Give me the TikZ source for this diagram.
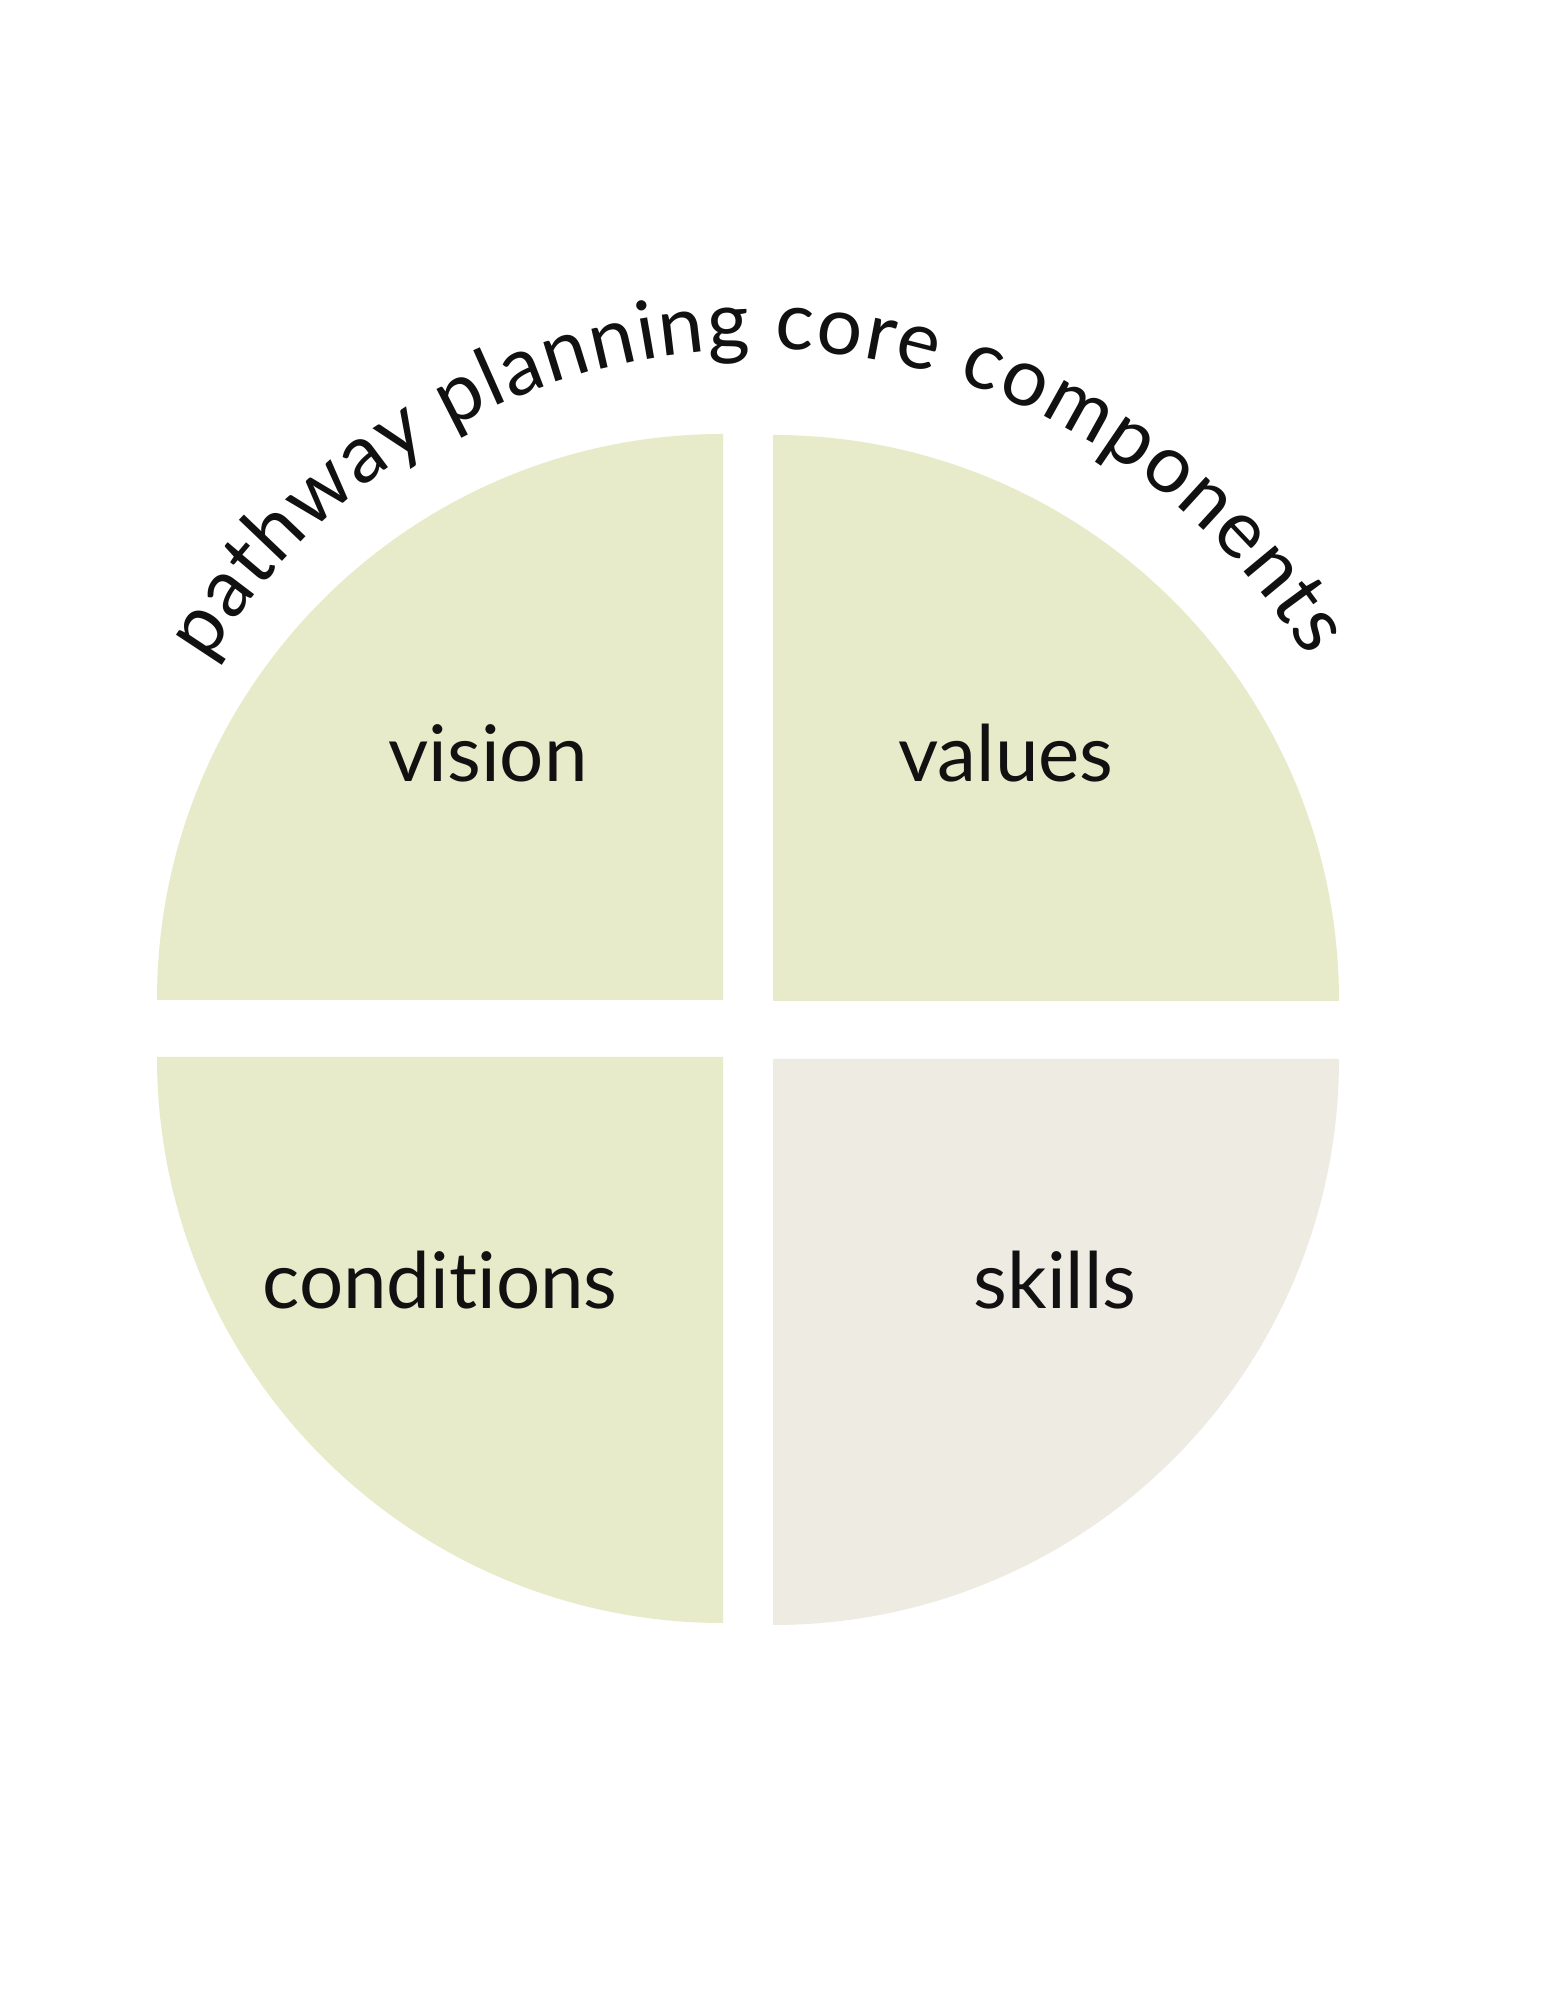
\documentclass[tikz,border=0pt]{standalone}
\usepackage{fontspec}
\setmainfont{Lato}[Ligatures={NoCommon}]
\usetikzlibrary{decorations.text}
\definecolor{sage}{HTML}{E7EBC9}
\definecolor{sand}{HTML}{EEEBE3}
\definecolor{ink}{HTML}{111111}
\tikzset{
  quarter/.style={fill=#1, draw=none},
  lbl/.style={anchor=base, text=ink, font=\fontsize{22.2pt}{26pt}\selectfont, inner sep=0pt}
}
\begin{document}
\begin{tikzpicture}
\fill[white] (0,0) rectangle (15.45,20);
\useasboundingbox (0,0) rectangle (15.45,20);
% quarters
\fill[quarter=sage] (7.23,10.00) -- ++(-5.66,0) arc[start angle=180, end angle=90, radius=5.66] -- cycle;
\fill[quarter=sage] (7.73,9.99) -- ++(0,5.66) arc[start angle=90, end angle=0, radius=5.66] -- cycle;
\fill[quarter=sage] (7.23,9.43) -- ++(0,-5.66) arc[start angle=270, end angle=180, radius=5.66] -- cycle;
\fill[quarter=sand] (7.73,9.41) -- ++(5.66,0) arc[start angle=0, end angle=-90, radius=5.66] -- cycle;
% labels
\node[lbl] (vision) at (4.88,12.18) {vision};
\node[lbl] (values) at (10.06,12.18) {values};
\node[lbl] (conditions) at (4.40,6.91) {conditions};
\node[lbl] (skills) at (10.55,6.91) {skills};
% curved title
\coordinate (tc) at (7.59,9.78);
\path[decorate, decoration={text along path,
   text={|\fontsize{23pt}{28pt}\selectfont\color{ink}|pathway planning core components},
   text align={fit to path}}]
  (tc) ++(147.7:6.52 and 6.73) arc[start angle=147.7, end angle=32.8, x radius=6.52, y radius=6.73];
\end{tikzpicture}
\end{document}
